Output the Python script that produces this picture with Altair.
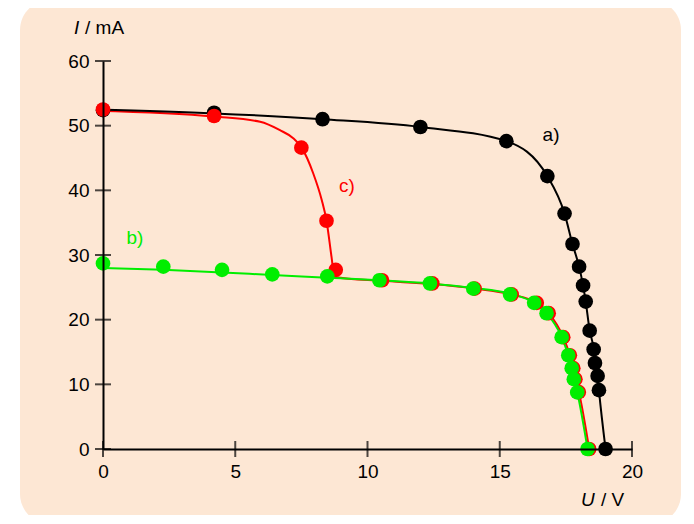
import altair as alt
import pandas as pd

# ---- data ----
# a) black
U_a = [0, 4.2, 8.3, 12.0, 15.25, 16.8, 17.45, 17.75, 18.0, 18.15, 18.25, 18.4, 18.55, 18.6, 18.7, 18.75, 19.0]
I_a = [52.4, 52.0, 51.0, 49.8, 47.6, 42.2, 36.4, 31.7, 28.2, 25.3, 22.8, 18.3, 15.4, 13.3, 11.3, 9.1, 0]
curve_a_U = [-0.25, 4.2, 8.3, 12.0, 15.25, 16.8, 17.45, 17.75, 18.0, 18.15, 18.25, 18.4, 18.55, 18.6, 18.7, 18.75, 19.0]
curve_a_I = [52.5, 51.9, 51.0, 49.8, 47.6, 42.2, 36.4, 31.7, 28.2, 25.3, 22.8, 18.3, 15.4, 13.3, 11.3, 9.1, 0]

# c) red
U_c = [0, 4.2, 7.5, 8.45, 8.8, 10.55, 12.45, 14.05, 15.45, 16.4, 16.85, 17.4, 17.65, 17.78, 17.86, 17.99, 18.38]
I_c = [52.5, 51.5, 46.6, 35.3, 27.7, 26.1, 25.6, 24.8, 23.9, 22.6, 21.0, 17.3, 14.5, 12.5, 10.8, 8.8, 0]
curve_c_U = [-0.25, 4.2, 5.94, 6.69, 7.18, 7.51, 7.95, 8.27, 8.45, 8.64, 8.75, 10.55, 12.45, 14.05, 15.45, 16.4, 16.85, 17.4, 17.65, 17.78, 17.86, 17.99, 18.38]
curve_c_I = [52.3, 51.4, 50.6, 49.3, 48.1, 46.6, 42.6, 38.5, 35.3, 29.7, 26.6, 26.0, 25.5, 24.8, 23.9, 22.6, 21.0, 17.3, 14.5, 12.5, 10.8, 8.8, 0]

# b) green
U_b = [0, 2.28, 4.5, 6.4, 8.48, 10.45, 12.36, 14.0, 15.39, 16.3, 16.77, 17.34, 17.59, 17.72, 17.8, 17.93, 18.32]
I_b = [28.7, 28.2, 27.7, 27.0, 26.7, 26.1, 25.6, 24.8, 23.9, 22.6, 21.0, 17.3, 14.5, 12.5, 10.8, 8.75, 0]
curve_b_U = [0, 2.28, 4.5, 6.4, 8.48, 10.45, 12.36, 14.0, 15.39, 16.3, 16.77, 17.34, 17.59, 17.72, 17.8, 17.93, 18.32]
curve_b_I = [28.0, 27.7, 27.3, 26.9, 26.5, 26.1, 25.6, 24.9, 24.0, 22.6, 21.0, 17.3, 14.5, 12.5, 10.8, 8.75, 0]

# curve labels
label_text = ["a)", "c)", "b)"]
label_U = [16.94, 9.22, 1.21]
label_I = [48.5, 40.6, 32.6]
label_color = ["#000000", "#ff0000", "#00ee00"]

x_ticks = [0, 5, 10, 15, 20]
y_ticks = [0, 10, 20, 30, 40, 50, 60]

FONT = "Liberation Sans"
BLACK, RED, GREEN = "#000000", "#ff0000", "#00ee00"
PEACH = "#FDE7D4"

W, H = 529, 388

xs = alt.Scale(domain=[0, 20], nice=False, zero=False)
ys = alt.Scale(domain=[0, 60], nice=False, zero=False)

X = alt.X("U:Q", scale=xs, axis=alt.Axis(values=x_ticks, title=None, labelPadding=13,
                                         labelFlush=False, zindex=2))
Y = alt.Y("I:Q", scale=ys, axis=alt.Axis(values=y_ticks, title=None, labelPadding=14,
                                         labelFlush=False, zindex=2))


def df(u, i):
    return pd.DataFrame({"U": u, "I": i})


bg = alt.Chart(pd.DataFrame({"k": [0]})).mark_rect(
    color=PEACH, cornerRadius=30
).encode(
    x=alt.value(-83), x2=alt.value(578), y=alt.value(-61), y2=alt.value(463)
)


def line(u, i, color):
    return alt.Chart(df(u, i)).mark_line(
        color=color, strokeWidth=2, interpolate="monotone", clip=False
    ).encode(x=X, y=Y, order="U:Q")


def pts(u, i, color):
    return alt.Chart(df(u, i)).mark_circle(
        color=color, size=215, opacity=1
    ).encode(x=X, y=Y)


yt = alt.Chart(pd.DataFrame({"I": y_ticks})).mark_tick(
    orient="horizontal", size=16, thickness=2, color=BLACK
).encode(y=alt.Y("I:Q", scale=ys), x=alt.datum(0))

xt = alt.Chart(pd.DataFrame({"U": x_ticks})).mark_tick(
    orient="vertical", size=16, thickness=2, color=BLACK
).encode(x=alt.X("U:Q", scale=xs), y=alt.datum(0))

labels = alt.Chart(pd.DataFrame({"t": label_text, "U": label_U, "I": label_I, "c": label_color})).mark_text(
    font=FONT, fontSize=19, align="center", baseline="middle"
).encode(
    x=alt.X("U:Q", scale=xs), y=alt.Y("I:Q", scale=ys), text="t:N",
    color=alt.Color("c:N", scale=None)
)


def txt(s, x, y, italic=False):
    kw = dict(text=s, font=FONT, fontSize=19, align="left", baseline="alphabetic", color=BLACK)
    if italic:
        kw["fontStyle"] = "italic"
    return alt.Chart(pd.DataFrame({"k": [0]})).mark_text(**kw).encode(
        x=alt.value(x), y=alt.value(y)
    )


ytitle_i = txt("I", -29, -27, italic=True)
ytitle_r = txt("/ mA", -18, -27)
xtitle_u = txt("U", 478, 445, italic=True)
xtitle_r = txt("/ V", 498, 445)

chart = alt.layer(
    bg,
    line(curve_c_U, curve_c_I, RED),
    line(curve_a_U, curve_a_I, BLACK),
    line(curve_b_U, curve_b_I, GREEN),
    yt, xt,
    pts(U_a, I_a, BLACK),
    pts(U_c, I_c, RED),
    pts(U_b, I_b, GREEN),
    labels,
    ytitle_i, ytitle_r, xtitle_u, xtitle_r,
).properties(
    width=W, height=H,
    autosize=alt.AutoSizeParams(type="none"),
    padding={"left": 95, "top": 53, "right": 52, "bottom": 66},
    background="white",
).configure_view(
    stroke=None
).configure_axis(
    grid=False, ticks=False, domainColor=BLACK, domainWidth=2,
    labelColor=BLACK, labelFont=FONT, labelFontSize=19,
)

chart.save("out.html", embed_options={"renderer": "svg", "actions": False})
